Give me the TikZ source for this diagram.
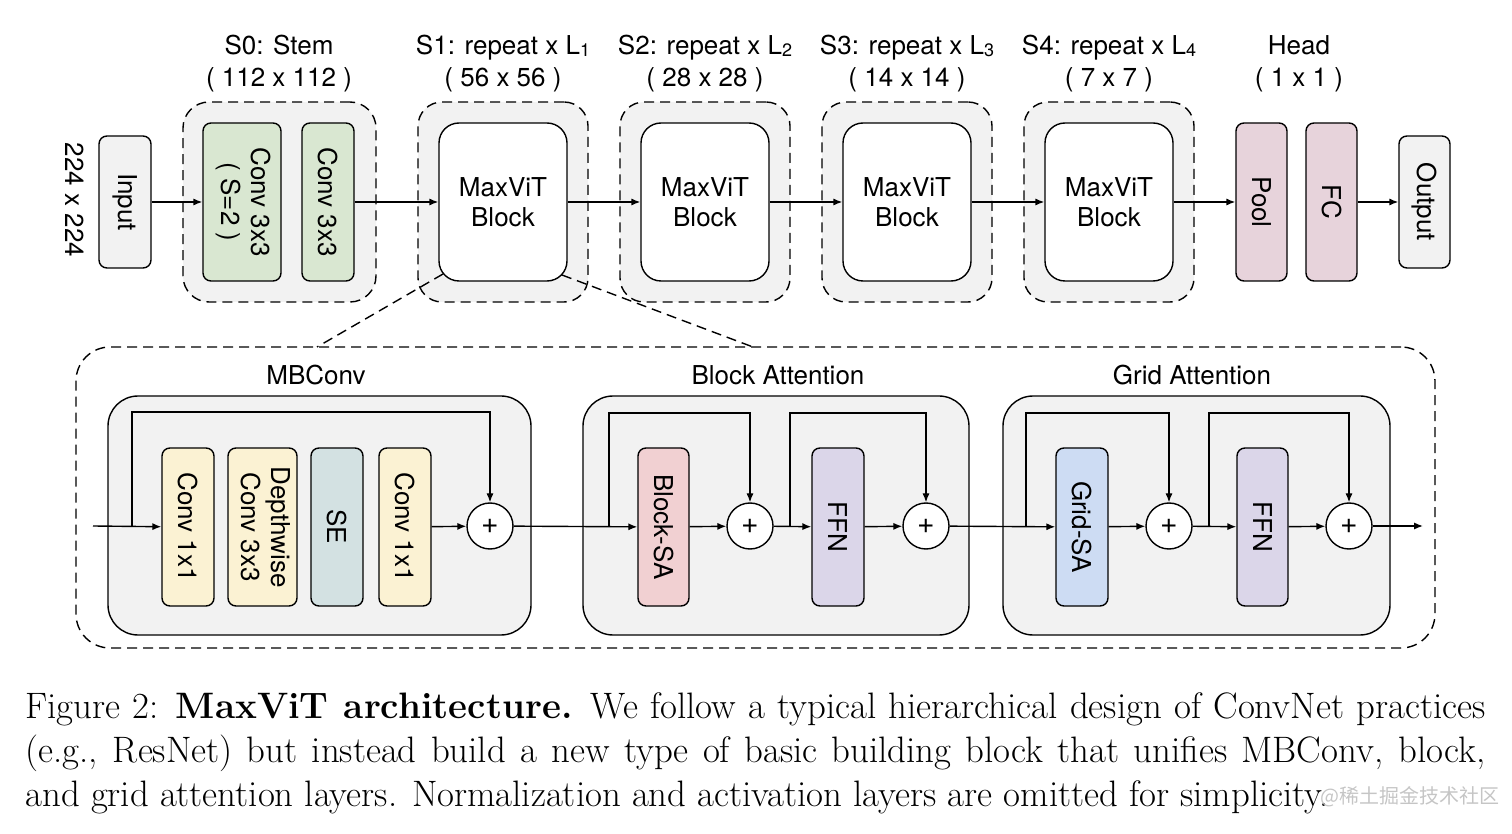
\documentclass[tikz,border=0pt]{standalone}
\usepackage{fontspec}
\newfontfamily\hv{TeX Gyre Heros}
\newfontfamily\cjk{Noto Sans CJK SC}
\usetikzlibrary{arrows.meta,calc}
\definecolor{bggray}{HTML}{F2F2F2}
\definecolor{stemgreen}{HTML}{D9E7D1}
\definecolor{headpink}{HTML}{E7D3DB}
\definecolor{convyellow}{HTML}{FBF2D3}
\definecolor{seteal}{HTML}{D3E1E2}
\definecolor{sapink}{HTML}{F1D0D2}
\definecolor{ffnpurple}{HTML}{DBD6E9}
\definecolor{gridblue}{HTML}{CDDCF3}
\newcommand{\rot}[1]{\rotatebox{-90}{#1}}
\newcommand{\rottwo}[2]{\rotatebox{-90}{\begin{tabular}{@{}c@{}}#1\\#2\end{tabular}}}
\newcommand{\subsm}[1]{\raisebox{-0.6pt}{\fontsize{9}{9}\selectfont #1}}
\tikzset{
  sf/.style={font=\hv\fontsize{13}{15}\selectfont},
  lbl/.style={sf, inner sep=0pt},
  toplbl/.style={lbl, anchor=base},
  box/.style={draw, line width=0.7pt, rounded corners=4pt, inner sep=0pt, sf, align=center},
  tall/.style={box, minimum width=26pt, minimum height=79pt},
  dashbox/.style={draw, line width=0.7pt, dash pattern=on 5pt off 3pt, fill=bggray},
  stagebox/.style={dashbox, rounded corners=12pt, minimum width=85pt, minimum height=100pt, inner sep=0pt},
  mblock/.style={box, fill=white, rounded corners=10pt, minimum width=64pt, minimum height=79pt},
  group/.style={draw, line width=0.7pt, fill=bggray, rounded corners=15pt, minimum height=119.5pt, inner sep=0pt},
  plus/.style={draw, line width=0.7pt, circle, fill=white, minimum size=23pt, inner sep=0pt, font=\hv\fontsize{15}{15}\selectfont},
  arr/.style={line width=0.7pt, -{Latex[length=4.5pt,width=3.6pt]}},
  ln/.style={line width=0.7pt},
  zoomln/.style={line width=0.7pt, dash pattern=on 5pt off 3pt},
}
\begin{document}
\begin{tikzpicture}[x=0.5pt,y=-0.5pt]
\useasboundingbox (0,0) rectangle (1512,834);

% ---------- top row ----------
\node[toplbl] (l0a) at (279,55) {S0: Stem};
\node[toplbl] (l0b) at (279,87) {( 112 x 112 )};
\node[toplbl] (l1a) at (503,55) {S1: repeat x L\subsm{1}};
\node[toplbl] (l1b) at (503,87) {( 56 x 56 )};
\node[toplbl] (l2a) at (705,55) {S2: repeat x L\subsm{2}};
\node[toplbl] (l2b) at (705,87) {( 28 x 28 )};
\node[toplbl] (l3a) at (907,55) {S3: repeat x L\subsm{3}};
\node[toplbl] (l3b) at (907,87) {( 14 x 14 )};
\node[toplbl] (l4a) at (1109,55) {S4: repeat x L\subsm{4}};
\node[toplbl] (l4b) at (1109,87) {( 7 x 7 )};
\node[toplbl] (lha) at (1299,55) {Head};
\node[toplbl] (lhb) at (1299,87) {( 1 x 1 )};

\node[lbl, rotate=-90] (res) at (75,200) {224 x 224};
\node[box, fill=bggray, minimum width=26pt, minimum height=66pt] (input) at (125,202) {\rot{Input}};

\node[stagebox, rounded corners=13pt, minimum width=96.5pt] (stem) at (279.5,202) {};
\node[tall, fill=stemgreen, minimum width=39pt] (conv1) at (242,202) {\rottwo{Conv 3x3}{( S=2 )}};
\node[tall, fill=stemgreen] (conv2) at (328,202) {\rot{Conv 3x3}};

\node[stagebox] (s1) at (503,202) {};
\node[stagebox] (s2) at (705,202) {};
\node[stagebox] (s3) at (907,202) {};
\node[stagebox] (s4) at (1109,202) {};
\node[mblock] (b1) at (503,202) {MaxViT\\Block};
\node[mblock] (b2) at (705,202) {MaxViT\\Block};
\node[mblock] (b3) at (907,202) {MaxViT\\Block};
\node[mblock] (b4) at (1109,202) {MaxViT\\Block};

\node[tall, fill=headpink, minimum width=25.5pt] (pool) at (1261.5,202) {\rot{Pool}};
\node[tall, fill=headpink, minimum width=25.5pt] (fc) at (1331.5,202) {\rot{FC}};
\node[box, fill=bggray, minimum width=25.5pt, minimum height=66pt] (output) at (1424.5,202) {\rot{Output}};

\draw[arr] (input) -- (conv1);
\draw[arr] (conv2) -- (b1);
\draw[arr] (b1) -- (b2);
\draw[arr] (b2) -- (b3);
\draw[arr] (b3) -- (b4);
\draw[arr] (b4) -- (pool);
\draw[arr] (fc) -- (output);

% ---------- bottom ----------
\node[dashbox, rounded corners=17pt, minimum width=679.5pt, minimum height=150.5pt, inner sep=0pt, fill=none] (big) at (755.5,497.5) {};

\coordinate (zl1) at (443,274);
\coordinate (zl2) at (317,347);
\coordinate (zr1) at (562,275);
\coordinate (zr2) at (753,347);
\draw[zoomln] (zl1) -- (zl2);
\draw[zoomln] (zr1) -- (zr2);

\node[lbl] (lmb) at (316,375) {MBConv};
\node[lbl] (lba) at (778,375) {Block Attention};
\node[lbl] (lga) at (1192,375) {Grid Attention};

\node[group, minimum width=211.5pt] (gmb) at (319.5,515.5) {};
\node[group, minimum width=193pt] (gba) at (776,515.5) {};
\node[group, minimum width=193.5pt] (gga) at (1196.5,515.5) {};

\node[tall, fill=convyellow] (c1) at (188,527) {\rot{Conv 1x1}};
\node[tall, fill=convyellow, minimum width=34.5pt] (dw) at (262.5,527) {\rottwo{Depthwise}{Conv 3x3}};
\node[tall, fill=seteal] (se) at (337,527) {\rot{SE}};
\node[tall, fill=convyellow] (c2) at (405,527) {\rot{Conv 1x1}};
\node[plus] (pa) at (490,526) {+};

\node[tall, fill=sapink, minimum width=25.5pt] (bsa) at (663.5,527) {\rot{Block-SA}};
\node[plus] (pb1) at (750,526) {+};
\node[tall, fill=ffnpurple] (ffn1) at (838,527) {\rot{FFN}};
\node[plus] (pb2) at (926,526) {+};

\node[tall, fill=gridblue] (gsa) at (1082,527) {\rot{Grid-SA}};
\node[plus] (pc1) at (1169,526) {+};
\node[tall, fill=ffnpurple, minimum width=25.5pt] (ffn2) at (1262.5,527) {\rot{FFN}};
\node[plus] (pc2) at (1349,526) {+};

\coordinate (start) at (93,526);
\coordinate (finish) at (1423,526);
\coordinate (sa) at (132,526);
\coordinate (sb1) at (609,526);
\coordinate (sb2) at (790,526);
\coordinate (sc1) at (1026,526);
\coordinate (sc2) at (1209,526);

\draw[arr] (start) -- (c1);
\draw[arr] (c2) -- (pa);
\draw[arr] (pa) -- (bsa);
\draw[arr] (bsa) -- (pb1);
\draw[arr] (pb1) -- (ffn1);
\draw[arr] (ffn1) -- (pb2);
\draw[arr] (pb2) -- (gsa);
\draw[arr] (gsa) -- (pc1);
\draw[arr] (pc1) -- (ffn2);
\draw[arr] (ffn2) -- (pc2);
\draw[arr] (pc2) -- (finish);

\draw[arr] (sa) -- ++(0,-114) -| (pa.north);
\draw[arr] (sb1) -- ++(0,-113) -| (pb1.north);
\draw[arr] (sb2) -- ++(0,-113) -| (pb2.north);
\draw[arr] (sc1) -- ++(0,-113) -| (pc1.north);
\draw[arr] (sc2) -- ++(0,-113) -| (pc2.north);

% ---------- caption ----------
\node[anchor=north west, inner sep=0pt, text width=730pt, align=justify,
      font=\fontsize{18.4}{22}\selectfont] (cap) at (25,692)
{Figure 2: \textbf{MaxViT architecture.} We follow a typical hierarchical design of ConvNet practices\linebreak
(e.g., ResNet) but instead build a new type of basic building block that unifies MBConv, block,\linebreak
and grid attention layers. Normalization and activation layers are omitted for simplicity.};
\node[inner sep=0pt, font=\cjk\fontsize{10}{10}\selectfont, text=gray!50, opacity=0.9] (wm) at (1410,797) {@稀土掘金技术社区};
\end{tikzpicture}
\end{document}
